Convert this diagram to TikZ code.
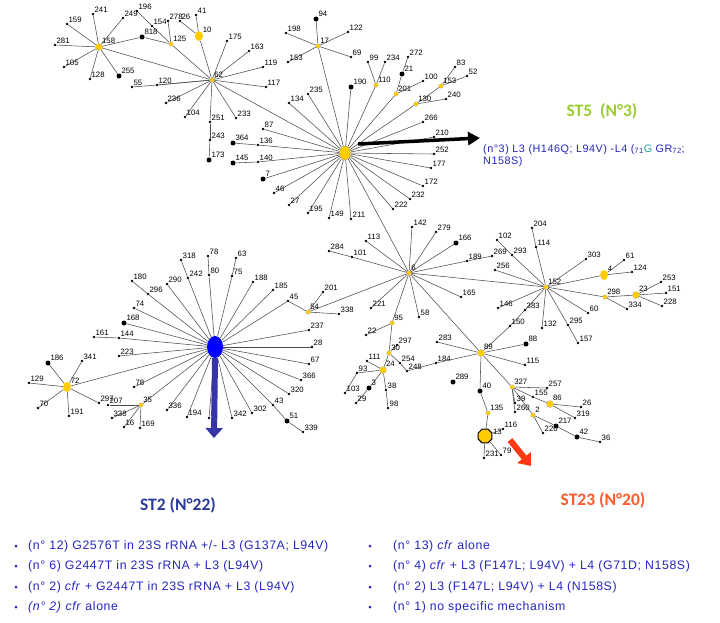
\documentclass[tikz,border=0pt]{standalone}
\usepackage{fontspec}
\setmainfont{Liberation Sans}
\newfontfamily\titlefont{Carlito}
\newfontfamily\legfont[LetterSpace=5]{Liberation Sans}
\usetikzlibrary{arrows.meta,backgrounds,shapes.geometric}
\definecolor{hubyellow}{HTML}{FFCC00}
\definecolor{stfive}{HTML}{99CC33}
\definecolor{sttwo}{HTML}{2B3A9A}
\definecolor{sttwenty}{HTML}{FF5A2A}
\definecolor{legblue}{HTML}{2424C0}
\definecolor{gteal}{HTML}{1FA0A0}
\definecolor{arrblue}{HTML}{3535A8}
\definecolor{arrred}{HTML}{FF3A12}

\tikzset{
  dot/.style={circle,fill=black,inner sep=0pt,minimum size=2.6pt},
  bdot/.style={circle,fill=black,inner sep=0pt,minimum size=5pt},
  hub/.style={circle,fill=hubyellow,draw=black!35,line width=0.2pt,inner sep=0pt,minimum size=4.5pt},
  hubm/.style={hub,minimum size=7pt},
  hubl/.style={ellipse,fill=hubyellow,inner sep=0pt,minimum width=8pt,minimum height=10pt},
  lbl/.style={font=\fontsize{7.8}{8}\selectfont,inner sep=0.4pt},
  edge/.style={draw=black!70,line width=0.55pt},
  sttitle/.style={font=\titlefont\bfseries\fontsize{17.5}{19}\selectfont},
  legend/.style={font=\legfont\fontsize{12.3}{14}\selectfont,text=legblue,anchor=west,inner sep=0pt},
  bullet/.style={circle,fill=legblue,inner sep=0pt,minimum size=3pt}
}

\begin{document}
\begin{tikzpicture}[x=1pt,y=-1pt]
\useasboundingbox (0,0) rectangle (720,622);

% the three big centres
\node[ellipse,fill=hubyellow,draw=black!40,line width=0.3pt,minimum width=11pt,minimum height=14pt,inner sep=0pt] (H5) at (345,153) {};
\node[ellipse,fill=blue,minimum width=16pt,minimum height=22pt,inner sep=0pt] (S2) at (215,347) {};
\node[regular polygon,regular polygon sides=8,fill=hubyellow,draw=black,line width=1pt,minimum size=15pt,inner sep=0pt,label={[lbl]10:13}] (n13) at (485,436) {};

% small isolates
\foreach \n/\x/\y/\t in {
  n241/93/14/241, n159/67/24/159, n249/123/18/249, n281/55/45/281, n105/64/67/105,
  n128/90/79/128, n154/152/26/154, n196/137/11/196, n278/168/21/278, n41/196/15/41,
  n26a/180/21/26, n120/157/85/120, n55/132/87/55, n236/166/103/236, n104/185/117/104,
  n251/210/122/251, n243/210/140/243, n233/236/118/233, n117/266/87/117, n119/263/67/119,
  n163/249/51/163, n175/227/41/175, n198/286/33/198, n122/348/32/122, n153a/288/62/153,
  n69/351/57/69, n134/289/103/134, n235/308/94/235, n99/368/62/99, n234/385/62/234,
  n272/408/57/272, n100/423/81/100, n83/455/67/83, n52/467/76/52, n240/446/99/240,
  n266/423/122/266, n210/434/137/210, n252/434/154/252, n177/431/168/177, n172/423/186/172,
  n232/410/199/232, n222/393/209/222, n211/351/219/211, n149/329/218/149, n195/308/213/195,
  n27/289/205/27, n46/274/193/46, n140/258/162/140, n136/258/145/136, n87/263/129/87,
  n142/412/227/142, n279/436/232/279, n189/467/261/189, n269/492/256/269, n113/366/241/113,
  n101/352/257/101, n284/329/251/284, n165/461/297/165, n58/419/317/58, n221/371/308/221,
  n201b/323/292/201, n338/339/314/338, n114/536/247/114, n204/532/228/204, n293/512/255/293,
  n102/497/240/102, n256/495/270/256, n303/586/259/303, n61/624/260/61, n124/632/272/124,
  n253/661/282/253, n151/666/293/151, n228/662/306/228, n334/627/309/334, n60/588/313/60,
  n295/568/325/295, n157/578/343/157, n132/542/328/132, n146/498/308/146, n383/525/310/383,
  n150/510/326/150, n283/437/342/283, n115/525/365/115, n184/436/363/184, n116/503/429/116,
  n231/484/458/231, n79/501/455/79, n257/547/388/257, n155/533/397/155, n26b/581/407/26,
  n319/575/418/319, n36/600/442/36, n220/543/433/220, n260/515/412/260, n39/515/403/39,
  n22/366/335/22, n297b/397/345/297, n111/367/361/111, n254/400/363/254, n248/407/371/248,
  n93/357/373/93, n103/345/393/103, n29/356/403/29, n38/386/390/38, n98/388/408/98,
  n318/181/260/318, n242/188/278/242, n78/208/256/78, n80/209/275/80, n63/236/258/63,
  n75/232/276/75, n290/167/284/290, n296/148/294/296, n180/132/281/180, n74/134/308/74,
  n144/119/338/144, n161/94/337/161, n223/119/356/223, n78b/134/387/78, n336/167/410/336,
  n194/187/417/194, n8/209/418/8, n342/232/418/342, n302/252/413/302, n43/273/405/43,
  n339/303/432/339, n320/289/394/320, n366/301/380/366, n67/309/364/67, n28/312/347/28,
  n237/309/330/237, n45/288/301/45, n185/273/290/185, n188/253/282/188, n341/82/361/341,
  n129/29/383/129, n70/38/408/70, n191/69/416/191, n297/99/403/297, n207/108/405/207,
  n338b/112/418/338, n16/124/427/16, n169/140/428/169}
  \node[dot,label={[lbl]45:\t}] (\n) at (\x,\y) {};

% bigger black dots
\foreach \n/\x/\y/\t in {
  n255/119/76/255, n818/142/37/818, n173/209/160/173, n94/316/19/94, n190/351/87/190,
  n21/402/74/21, n7/263/179/7, n145/233/163/145, n364/233/143/364, n166/456/243/166,
  n88/526/344/88, n289/453/382/289, n40/480/391/40, n217/556/426/217, n42/577/437/42,
  n3/369/388/3, n168/124/323/168, n186/48/363/186, n51/287/421/51}
  \node[bdot,label={[lbl]45:\t}] (\n) at (\x,\y) {};

% yellow hubs
\foreach \n/\x/\y/\t in {
  n62/212/80/62, n125/171/44/125, n17/318/46/17, n110/376/85/110, n201/396/94/201,
  n130/416/104/130, n153b/441/86/153, n6/409/273/6, n95/392/323/95, n30/389/353/30,
  n135/488/413/135, n327/512/387/327, n2x/533/415/2, n298/605/297/298, n35/141/405/35,
  n54/308/312/54, n152/546/287/152}
  \node[hub,label={[lbl]45:\t}] (\n) at (\x,\y) {};
\foreach \n/\x/\y/\t in {
  n158/99/47/158, n23/636/295/23, n89/481/353/89, n86/550/404/86, n2y/383/370/24}
  \node[hubm,label={[lbl]45:\t}] (\n) at (\x,\y) {};
\foreach \n/\x/\y/\t in {n10/199/36/10, n4/604/275/4, n72/67/387/72}
  \node[hubl,label={[lbl]45:\t}] (\n) at (\x,\y) {};

% links
\begin{scope}[on background layer]
\foreach \a/\b in {H5/n62, n62/n158, n818/n125, n125/n62, n125/n154, n154/n196, n125/n278,
  n10/n62, n10/n41, n10/n26a, n62/n120, n120/n55, n251/n243, n243/n173,
  H5/n17, n140/n145, n136/n364, n110/n99, n110/n234, n201/n21, n21/n272, n201/n100,
  n130/n153b, n153b/n83, n153b/n52, n130/n240, n189/n269, n101/n284,
  n54/n201b, n54/n338, n54/n45, n45/S2, n114/n204, n293/n102, n4/n61, n4/n124,
  n298/n23, n298/n334, n295/n157, n383/n150, n150/n89, n184/n248, n248/n254,
  n40/n135, n135/n13, n13/n116, n13/n231, n13/n79, n155/n86, n86/n26b, n86/n319,
  n2x/n217, n217/n42, n42/n36, n2x/n220, n95/n22, n95/n30, n30/n297b, n30/n2y,
  n30/n254, n2y/n111, n2y/n93, n93/n103, n2y/n3, n3/n29, n2y/n38, n38/n98,
  n242/n318, n80/n78, n75/n63, n296/n180, n144/n161, n43/n51, n51/n339}
  \draw[edge] (\a) -- (\b);
\foreach \b in {n241,n159,n249,n281,n105,n128,n255,n818}
  \draw[edge] (n158) -- (\b);
\foreach \b in {n120,n236,n104,n251,n233,n117,n119,n163,n175}
  \draw[edge] (n62) -- (\b);
\foreach \b in {n94,n198,n122,n153a,n69}
  \draw[edge] (n17) -- (\b);
\foreach \b in {n134,n235,n190,n110,n201,n130,n266,n210,n252,n177,n172,n232,n222,
  n211,n149,n195,n27,n46,n7,n140,n136,n87,n6}
  \draw[edge] (H5) -- (\b);
\foreach \b in {n142,n279,n166,n189,n113,n101,n165,n58,n221,n54,n95,n89,n152}
  \draw[edge] (n6) -- (\b);
\foreach \b in {n114,n293,n256,n303,n4,n298,n60,n295,n132,n146,n383}
  \draw[edge] (n152) -- (\b);
\foreach \b in {n253,n151,n228}
  \draw[edge] (n23) -- (\b);
\foreach \b in {n283,n88,n115,n184,n40,n327}
  \draw[edge] (n89) -- (\b);
\foreach \b in {n257,n155,n39,n260,n2x}
  \draw[edge] (n327) -- (\b);
\foreach \b in {n242,n80,n75,n290,n296,n74,n168,n144,n223,n72,n78b,n35,n336,n194,
  n8,n342,n302,n43,n320,n366,n67,n28,n237,n185,n188}
  \draw[edge] (S2) -- (\b);
\foreach \b in {n186,n341,n129,n70,n191,n297}
  \draw[edge] (n72) -- (\b);
\foreach \b in {n207,n338b,n16,n169}
  \draw[edge] (n35) -- (\b);
\end{scope}

% arrows
\coordinate (a5s) at (358,144);
\coordinate (a5e) at (480,138);
\draw[line width=3.5pt,-{Triangle[length=12pt,width=13pt]}] (a5s) -- (a5e);
\coordinate (a2e) at (214,438);
\draw[arrblue,line width=6pt,-{Triangle[length=10pt,width=17pt]}] (S2.south) -- (a2e);
\coordinate (a23s) at (510,440);
\coordinate (a23e) at (531,466);
\draw[arrred,line width=6pt,-{Triangle[length=11pt,width=17pt]}] (a23s) -- (a23e);

% cluster titles
\node[sttitle,text=stfive] (st5) at (602,111) {ST5\ \ (N°3)};
\node[font=\legfont\fontsize{10.8}{12}\selectfont,text=legblue,anchor=north west,align=left,inner sep=0pt] (st5txt) at (483,144)
  {(n°3) L3 (H146Q; L94V) -L4 (\textsubscript{71}{\color{gteal}G} GR\textsubscript{72};\\ N158S)};
\node[sttitle,text=sttwo] (st2) at (178,505) {ST2 (N°22)};
\node[sttitle,text=sttwenty] (st23) at (603,500) {ST23 (N°20)};

% legend
\foreach \i/\y in {1/546,2/566,3/587,4/607} {
  \node[bullet] (bl\i) at (16,\y) {};
  \node[bullet] (br\i) at (370,\y) {};
}
\node[legend] (l1) at (28,546) {(n° 12) G2576T in 23S rRNA +/- L3 (G137A; L94V)};
\node[legend] (l2) at (28,566) {(n° 6) G2447T in 23S rRNA + L3 (L94V)};
\node[legend] (l3) at (28,587) {(n° 2) \textit{cfr} + G2447T in 23S rRNA + L3 (L94V)};
\node[legend] (l4) at (28,607) {\textit{(n° 2)} \textit{cfr} alone};
\node[legend] (r1) at (393,546) {(n° 13) \textit{cfr} alone};
\node[legend] (r2) at (393,566) {(n° 4) \textit{cfr} + L3 (F147L; L94V) + L4 (G71D; N158S)};
\node[legend] (r3) at (393,587) {(n° 2) L3 (F147L; L94V) + L4 (N158S)};
\node[legend] (r4) at (393,607) {(n° 1) no specific mechanism};
\end{tikzpicture}
\end{document}
